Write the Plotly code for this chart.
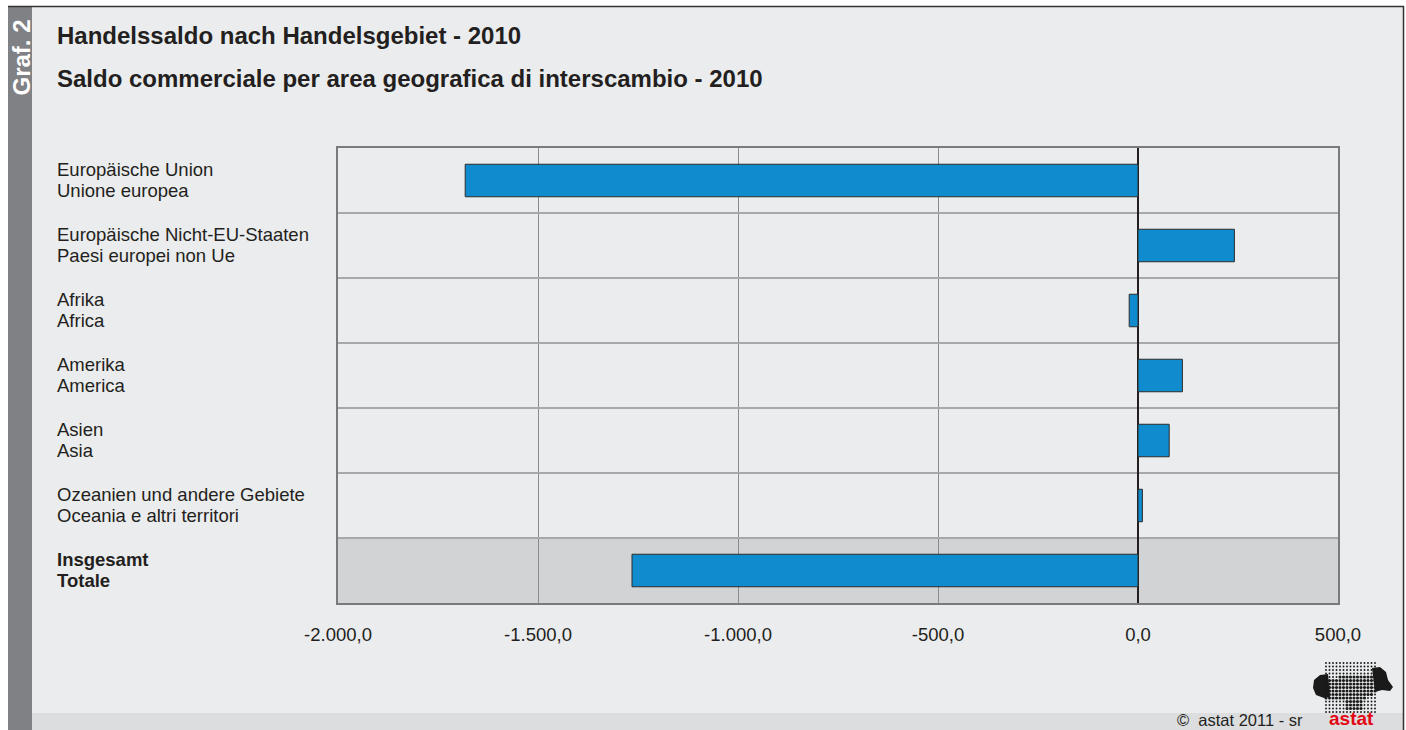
import plotly.graph_objects as go

categories_de = ["Europäische Union", "Europäische Nicht-EU-Staaten", "Afrika", "Amerika", "Asien",
                 "Ozeanien und andere Gebiete", "Insgesamt"]
categories_it = ["Unione europea", "Paesi europei non Ue", "Africa", "America", "Asia",
                 "Oceania e altri territori", "Totale"]
values = [-1682.0, 241.0, -22.0, 111.0, 78.0, 11.0, -1265.0]
x_ticks = [-2000, -1500, -1000, -500, 0, 500]
x_tick_labels = ["-2.000,0", "-1.500,0", "-1.000,0", "-500,0", "0,0", "500,0"]

W, H = 1406, 730
L, R, T, B = 338, 1338, 148, 603
FONT = "Liberation Sans, Arial, Helvetica, sans-serif"
TXT = "#231f20"

def px(x):
    return (x - L) / (R - L)

def py(y):
    return (B - y) / (B - T)

n = len(values)
ypos = [n - 1 - i for i in range(n)]

fig = go.Figure()
fig.add_trace(go.Bar(
    x=values, y=ypos, orientation="h", width=0.5,
    marker=dict(color="#0f8bce", line=dict(color="#2b2b2b", width=1)),
    hoverinfo="x", showlegend=False,
))

shapes = []
shapes.append(dict(type="rect", xref="paper", yref="paper", x0=px(32), x1=px(1403), y0=py(713), y1=py(7),
                   fillcolor="#ebeced", line=dict(width=0), layer="below"))
shapes.append(dict(type="rect", xref="paper", yref="y", x0=0, x1=1, y0=-0.5, y1=0.5,
                   fillcolor="#d2d3d5", line=dict(width=0), layer="below"))
shapes.append(dict(type="rect", xref="paper", yref="paper", x0=px(8), x1=px(32), y0=py(731), y1=py(6),
                   fillcolor="#808184", line=dict(width=0), layer="below"))
shapes.append(dict(type="rect", xref="paper", yref="paper", x0=px(32), x1=px(1403), y0=py(731), y1=py(713),
                   fillcolor="#dcdddf", line=dict(width=0), layer="below"))
shapes.append(dict(type="line", xref="paper", yref="paper", x0=px(8), x1=px(1404), y0=py(6.5), y1=py(6.5),
                   line=dict(color="#333333", width=1.5)))
shapes.append(dict(type="line", xref="paper", yref="paper", x0=px(1403.5), x1=px(1403.5), y0=py(6), y1=py(731),
                   line=dict(color="#333333", width=1.5)))

# logo: side lobes + dot grid (bigger dots inside the region outline)
lobe_left = [(1328, 674), (1320, 675), (1314, 680), (1313, 688), (1316, 695), (1324, 698), (1330, 697)]
lobe_right = [(1372, 668), (1380, 667), (1386, 672), (1388, 680), (1393, 687), (1390, 691), (1382, 690),
              (1375, 692)]
for lobe in (lobe_left, lobe_right):
    path = "M " + " L ".join(f"{px(a):.5f},{py(b):.5f}" for a, b in lobe) + " Z"
    shapes.append(dict(type="path", xref="paper", yref="paper", path=path, fillcolor="#1a1a1a",
                       line=dict(width=0)))

def inside(cx, cy):
    top = 680 - (cx - 1326) * 0.22 if cx < 1350 else 674
    if cx < 1345:
        bot = 700
    elif cx < 1362:
        bot = 710
    else:
        bot = 700 - (cx - 1362) * 0.5
    return top <= cy <= bot

for i in range(15):
    for j in range(15):
        cx = 1326 + i * 3.5
        cy = 663 + j * 3.5
        r = 1.55 if inside(cx, cy) else 0.95
        shapes.append(dict(type="circle", xref="paper", yref="paper",
                           x0=px(cx - r), x1=px(cx + r), y0=py(cy + r), y1=py(cy - r),
                           fillcolor="#1a1a1a", line=dict(width=0)))

annotations = []
for i, (de, it) in enumerate(zip(categories_de, categories_it)):
    bold = i == n - 1
    for txt, shift in ((de, 11), (it, -10)):
        t = f"<b>{txt}</b>" if bold else txt
        annotations.append(dict(xref="paper", yref="y", x=px(55), y=ypos[i], yshift=shift, text=t,
                                xanchor="left", yanchor="middle", align="left", showarrow=False,
                                font=dict(size=18.5, color=TXT, family=FONT)))

annotations += [
    dict(xref="paper", yref="paper", x=px(55), y=py(35), text="<b>Handelssaldo nach Handelsgebiet - 2010</b>",
         xanchor="left", yanchor="middle", showarrow=False,
         font=dict(size=24, color=TXT, family=FONT)),
    dict(xref="paper", yref="paper", x=px(55), y=py(78),
         text="<b>Saldo commerciale per area geografica di interscambio - 2010</b>",
         xanchor="left", yanchor="middle", showarrow=False,
         font=dict(size=24, color=TXT, family=FONT)),
    dict(xref="paper", yref="paper", x=px(20.5), y=py(58), text="<b>Graf. 2</b>", textangle=-90,
         xanchor="center", yanchor="middle", showarrow=False,
         font=dict(size=24, color="#ffffff", family=FONT)),
    dict(xref="paper", yref="paper", x=px(1305), y=py(720), text="©  astat 2011 - sr",
         xanchor="right", yanchor="middle", showarrow=False,
         font=dict(size=16.5, color=TXT, family=FONT)),
    dict(xref="paper", yref="paper", x=px(1351), y=py(718), text="<b>astat</b>",
         xanchor="center", yanchor="middle", showarrow=False,
         font=dict(size=19, color="#e30613", family=FONT)),
]

fig.update_layout(
    width=W, height=H,
    margin=dict(l=L, r=W - R, t=T, b=H - B, pad=0),
    paper_bgcolor="#ffffff",
    plot_bgcolor="#ffffff",
    shapes=shapes,
    annotations=annotations,
    font=dict(family=FONT, color=TXT),
    xaxis=dict(range=[-2000, 500], tickvals=x_ticks, ticktext=x_tick_labels,
               showgrid=True, gridcolor="#8c8c8c", gridwidth=1,
               zeroline=True, zerolinecolor="#231f20", zerolinewidth=2,
               showline=True, linecolor="#7a7a7a", linewidth=2, mirror=True,
               ticks="", ticklabelstandoff=14, tickfont=dict(size=18.5, color=TXT, family=FONT),
               fixedrange=True),
    yaxis=dict(range=[-0.5, n - 0.5], tickvals=[k + 0.5 for k in range(n - 1)], showticklabels=False,
               showgrid=True, gridcolor="#a8a8a8", gridwidth=1.5, zeroline=False,
               showline=True, linecolor="#7a7a7a", linewidth=2, mirror=True, ticks="",
               fixedrange=True),
)

fig.write_html("out.html", config={"displayModeBar": False},
               post_script="document.body.style.margin='0';document.body.style.overflow='hidden';")
